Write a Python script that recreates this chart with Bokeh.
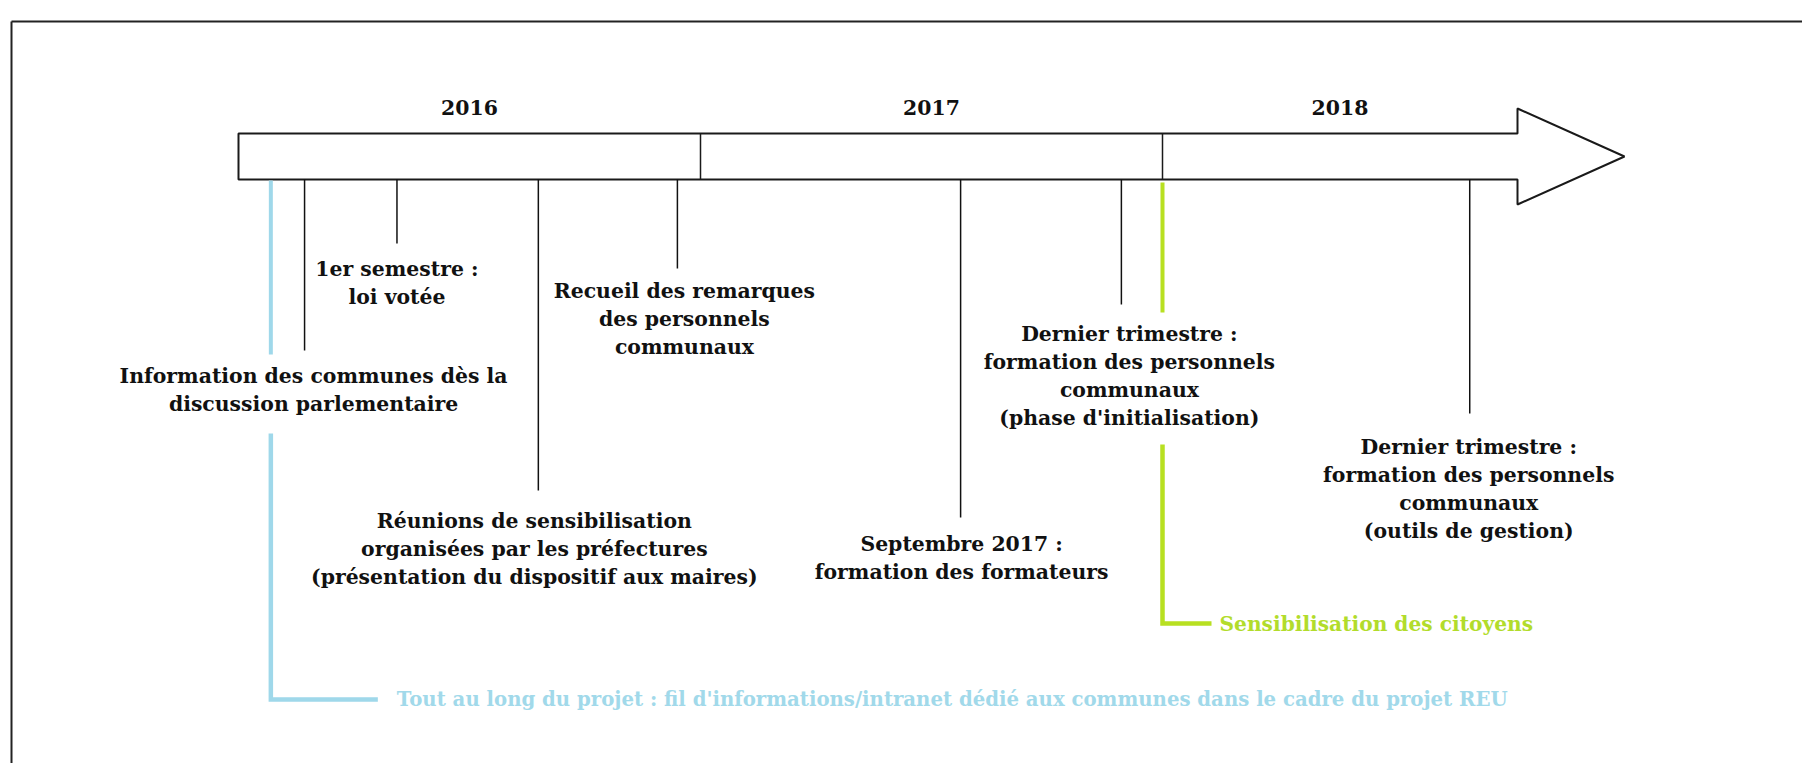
from bokeh.plotting import figure
from bokeh.models import Range1d
from bokeh.embed import file_html
from bokeh.resources import INLINE
from bokeh.core.properties import value

# ---------------- data ----------------
year_starts = [2016, 2017, 2018]
year_labels = ["2016", "2017", "2018"]
timeline_end = 2019.0

event_dates = [2016.143, 2016.343, 2016.649, 2016.950, 2017.563, 2017.911, 2018.665]
event_labels = [
    ["Information des communes dès la", "discussion parlementaire"],
    ["1er semestre :", "loi votée"],
    ["Réunions de sensibilisation", "organisées par les préfectures",
     "(présentation du dispositif aux maires)"],
    ["Recueil des remarques", "des personnels", "communaux"],
    ["Septembre 2017 :", "formation des formateurs"],
    ["Dernier trimestre :", "formation des personnels", "communaux",
     "(phase d'initialisation)"],
    ["Dernier trimestre :", "formation des personnels", "communaux",
     "(outils de gestion)"],
]
continuous_dates = [2016.07, 2018.0]
continuous_labels = [
    "Tout au long du projet : fil d'informations/intranet dédié aux communes dans le cadre du projet REU",
    "Sensibilisation des citoyens",
]

# ---------------- layout (pixels) ----------------
W, H = 1802, 763
PX_PER_YEAR = 462.0
X0_PX = 238.0            # screen x of 2016
def yr(px):              # screen px -> year coordinate
    return 2016 + (px - X0_PX) / PX_PER_YEAR
def dyr(px):
    return px / PX_PER_YEAR

BOX_TOP, BOX_BOT, BOX_MID = 133, 179, 156
HEAD_TOP, HEAD_BOT = 108, 204
SHAFT_END = yr(1517)
LINE_H = 28

tick_end_y = [350, 243, 490, 268, 517, 304, 413]
text_top_y = [375, 268, 520, 290, 543, 333, 446]
text_dx_px = [9, 0, -4, 7, 1, 8, -1]

cont_colors = ["#9fd8ea", "#b8e021"]
cont_text_colors = ["#a1d9ea", "#b2dc2b"]
cont_segs = [[(180, 354), (433, 699)], [(182, 312), (444, 623)]]
cont_hlen_px = [107, 49]
cont_text_dx_px = [126, 57]
cont_font_sizes = ["19.7px", "20.2px"]

FONT = value("DejaVu Serif")
FS = "20.4px"

p = figure(width=W, height=H, output_backend="svg", toolbar_location=None,
           x_range=Range1d(yr(0), yr(W)), y_range=Range1d(H, 0),
           min_border=0, outline_line_color=None)
p.axis.visible = False
p.grid.visible = False
p.background_fill_color = "white"
p.border_fill_color = "white"

# frame (top and left border of the original picture)
p.line([yr(11), yr(1830)], [21, 21], line_color="#222222", line_width=2)
p.line([yr(11), yr(11)], [21, 790], line_color="#222222", line_width=2)

# arrow outline
ax = [year_starts[0], SHAFT_END, SHAFT_END, timeline_end, SHAFT_END, SHAFT_END, year_starts[0], year_starts[0]]
ay = [BOX_TOP, BOX_TOP, HEAD_TOP, BOX_MID, HEAD_BOT, BOX_BOT, BOX_BOT, BOX_TOP]
p.patch(ax, ay, fill_color="white", line_color="#1a1a1a", line_width=2)
# year dividers
p.segment(x0=year_starts[1:], y0=[BOX_TOP] * 2, x1=year_starts[1:], y1=[BOX_BOT] * 2,
          line_color="#1a1a1a", line_width=1.5)

# year labels
yl_x = [(year_starts[i] + (year_starts[i + 1] if i + 1 < len(year_starts) else SHAFT_END)) / 2
        for i in range(len(year_starts))]
p.text(x=yl_x, y=[107] * 3, text=year_labels, text_font=FONT, text_font_style="bold",
       text_font_size=FS, text_align="center", text_baseline="middle", text_color="#111111")

# event ticks
p.segment(x0=event_dates, y0=[BOX_BOT] * len(event_dates), x1=event_dates, y1=tick_end_y,
          line_color="#111111", line_width=1.5)

# event labels
lx, ly, lt = [], [], []
for d, lines, ty, dx in zip(event_dates, event_labels, text_top_y, text_dx_px):
    for k, s in enumerate(lines):
        lx.append(d + dyr(dx))
        ly.append(ty + k * LINE_H)
        lt.append(s)
p.text(x=lx, y=ly, text=lt, text_font=FONT, text_font_style="bold", text_font_size=FS,
       text_align="center", text_baseline="middle", text_color="#111111")

# continuous actions (coloured brackets)
for d, lab, col, tcol, segs, hl, tdx, fs in zip(continuous_dates, continuous_labels, cont_colors,
                                               cont_text_colors, cont_segs, cont_hlen_px,
                                               cont_text_dx_px, cont_font_sizes):
    (a0, b0), (a1, b1) = segs
    p.line([d, d], [a0, b0], line_color=col, line_width=4)
    p.line([d, d, d + dyr(hl)], [a1, b1, b1], line_color=col, line_width=4.5,
           line_join="miter")
    p.text(x=[d + dyr(tdx)], y=[b1], text=[lab], text_font=FONT, text_font_style="bold",
           text_font_size=fs, text_align="left", text_baseline="middle", text_color=tcol)

open("out.html", "w").write(file_html(p, INLINE))
